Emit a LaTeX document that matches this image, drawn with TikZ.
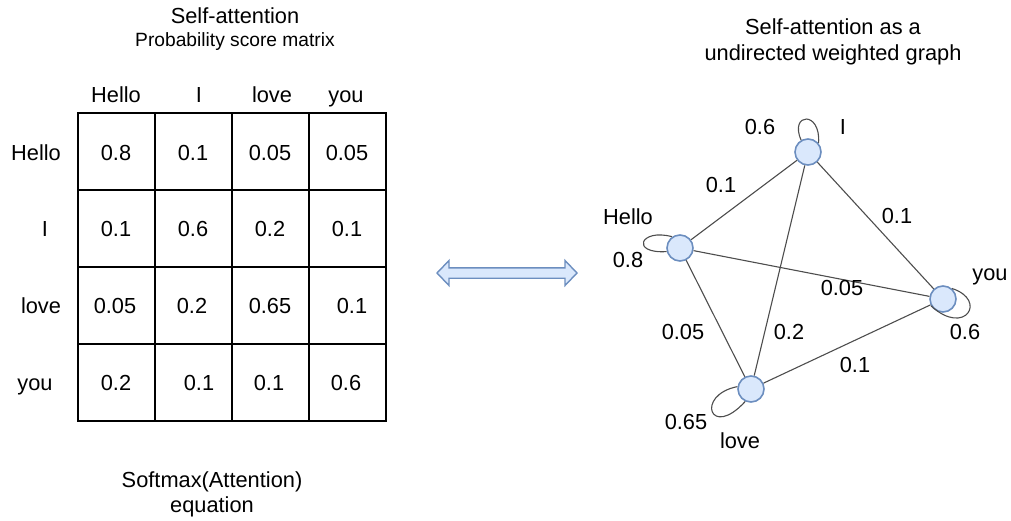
\documentclass[tikz,border=0pt]{standalone}
\usepackage{fontspec}
\setmainfont{Liberation Sans}
\begin{document}
\begin{tikzpicture}[x=1pt,y=1pt,
  txt/.style={inner sep=0pt, text height=15.6pt, text depth=0pt, font=\fontsize{21.8}{26}\selectfont},
  subtxt/.style={inner sep=0pt, text height=13.7pt, text depth=0pt, font=\fontsize{19.2}{23}\selectfont},
  cell/.style={draw=black, line width=1.8pt, minimum size=77pt, inner sep=0pt},
  vertex/.style={circle, draw=vstroke, fill=vfill, line width=1.6pt, minimum size=26pt, inner sep=0pt},
  edge/.style={draw=edgegray, line width=1.1pt},
  arrowbody/.style={draw=vstroke, fill=vfill, line width=1.4pt, line join=miter}
]
\definecolor{vfill}{HTML}{DAE8FC}
\definecolor{vstroke}{HTML}{6C8EBF}
\definecolor{edgegray}{HTML}{4D4D4D}
\path[use as bounding box] (0,0) rectangle (1011,-520);

% ---- left: score matrix ----
\node[txt] (ttl) at (235,-16) {Self-attention};
\node[subtxt] (subttl) at (235,-39.5) {Probability score matrix};

\node[txt] (hHello) at (116,-95) {Hello};
\node[txt] (hI) at (199,-95) {I};
\node[txt] (hlove) at (272,-95) {love};
\node[txt] (hyou) at (346,-95) {you};

\node[txt] (rHello) at (36,-153) {Hello};
\node[txt] (rI) at (45,-229) {I};
\node[txt] (rlove) at (41,-306) {love};
\node[txt] (ryou) at (35,-383) {you};

\foreach \c/\x in {1/116.5,2/193.5,3/270.5,4/347.5}
  \foreach \r/\y in {1/151.5,2/228.5,3/305.5,4/382.5}
    \node[cell] (c\r\c) at (\x,-\y) {};

\node[txt] (v11) at (116,-153) {0.8};
\node[txt] (v12) at (193,-153) {0.1};
\node[txt] (v13) at (270,-153) {0.05};
\node[txt] (v14) at (347,-153) {0.05};
\node[txt] (v21) at (116,-229) {0.1};
\node[txt] (v22) at (193,-229) {0.6};
\node[txt] (v23) at (270,-229) {0.2};
\node[txt] (v24) at (347,-229) {0.1};
\node[txt] (v31) at (115,-306) {0.05};
\node[txt] (v32) at (192,-306) {0.2};
\node[txt] (v33) at (270,-306) {0.65};
\node[txt] (v34) at (352,-306) {0.1};
\node[txt] (v41) at (116,-383) {0.2};
\node[txt] (v42) at (199,-383) {0.1};
\node[txt] (v43) at (269,-383) {0.1};
\node[txt] (v44) at (346,-383) {0.6};

\node[txt] (eq1) at (212,-480) {Softmax(Attention)};
\node[txt] (eq2) at (212,-505) {equation};

% ---- double arrow between the two views ----
\draw[arrowbody] (437,-273) -- (449,-260.5) -- (449,-267.8) -- (565,-267.8) -- (565,-260.5)
  -- (577,-273) -- (565,-285.5) -- (565,-278.2) -- (449,-278.2) -- (449,-285.5) -- cycle;

% ---- right: weighted graph ----
\node[txt] (gt1) at (833,-27) {Self-attention as a};
\node[txt] (gt2) at (833,-53) {undirected weighted graph};

\node[vertex] (I) at (808,-152) {};
\node[vertex] (Hello) at (680,-248) {};
\node[vertex] (you) at (943,-299) {};
\node[vertex] (love) at (751,-389) {};

\draw[edge] (I) -- (Hello);
\draw[edge] (I) -- (you);
\draw[edge] (I) -- (love);
\draw[edge] (Hello) -- (you);
\draw[edge] (Hello) -- (love);
\draw[edge] (love) -- (you);

% self loops
\draw[edge] (I.120) .. controls (789,-113) and (821,-110) .. (I.40);
\draw[edge] (Hello.125) .. controls (640,-228) and (630,-254) .. (Hello.195);
\draw[edge] (you.50) .. controls (988,-300) and (965,-337) .. (you.210);
\draw[edge] (love.170) .. controls (695,-395) and (710,-440) .. (love.245);

% vertex names
\node[txt] (lI) at (843,-127) {I};
\node[txt] (lHello) at (628,-217) {Hello};
\node[txt] (lyou) at (990,-273) {you};
\node[txt] (llove) at (740,-441) {love};

% weights
\node[txt] (wII) at (760,-127) {0.6};
\node[txt] (wIH) at (721,-185) {0.1};
\node[txt] (wIY) at (897,-216) {0.1};
\node[txt] (wHH) at (628,-260) {0.8};
\node[txt] (wHY) at (842,-288) {0.05};
\node[txt] (wYY) at (965,-332) {0.6};
\node[txt] (wHL) at (683,-332) {0.05};
\node[txt] (wIL) at (789,-332) {0.2};
\node[txt] (wLY) at (855,-365) {0.1};
\node[txt] (wLL) at (686,-422) {0.65};
\end{tikzpicture}
\end{document}
